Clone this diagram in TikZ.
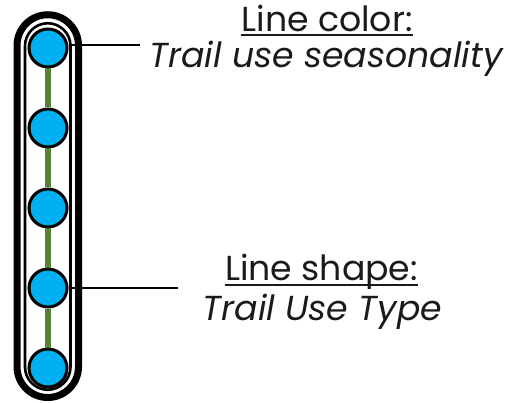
\documentclass[tikz,border=0pt]{standalone}
\usepackage{fontspec}
\setmainfont{Poppins}
\definecolor{dotblue}{RGB}{0,176,240}
\definecolor{trailgreen}{RGB}{84,130,53}
\definecolor{txt}{RGB}{26,26,26}
\begin{document}
\begin{tikzpicture}[x=1pt,y=-1pt,
  dot/.style={circle,draw=black,line width=3pt,fill=dotblue,minimum size=38pt,inner sep=0pt},
  trail/.style={trailgreen,line width=6pt},
  leader/.style={black,line width=2.6pt},
  lbl/.style={inner sep=0pt,anchor=base,text=txt,font=\fontsize{34.7}{40}\selectfont},
  uline/.style={txt,line width=2pt}]
\useasboundingbox (0,0) rectangle (508,403);
% stadium frame
\draw[line width=7pt] (17,45.5) arc[start angle=180,end angle=360,radius=30.75] -- (78.5,366.75) arc[start angle=0,end angle=180,radius=30.75] -- cycle;
\draw[line width=2.6pt] (25,46) arc[start angle=180,end angle=360,radius=22.75] -- (70.5,367) arc[start angle=0,end angle=180,radius=22.75] -- cycle;
% dots
\foreach \i/\y in {1/48,2/128,3/208,4/288,5/368}
  \node[dot] (c\i) at (48,\y) {};
\foreach \a/\b in {1/2,2/3,3/4,4/5}
  \draw[trail] (c\a) -- (c\b);
% leaders
\coordinate (e1) at (140,45);
\coordinate (e4) at (178,288);
\draw[leader] (c1.east |- e1) -- (e1);
\draw[leader] (c4.east) -- (e4);
% labels
\node[lbl] (t1) at (327,31.7) {Line color:};
\node[lbl] (t2) at (326,68) {\itshape Trail use seasonality};
\node[lbl] (t3) at (321.5,280) {Line shape:};
\node[lbl] (t4) at (322.5,320) {\itshape Trail Use Type};
\draw[uline] ([yshift=-3pt]t1.base west) -- ([yshift=-3pt]t1.base east);
\draw[uline] ([yshift=-5pt]t3.base west) -- ([yshift=-5pt]t3.base east);
\end{tikzpicture}
\end{document}
